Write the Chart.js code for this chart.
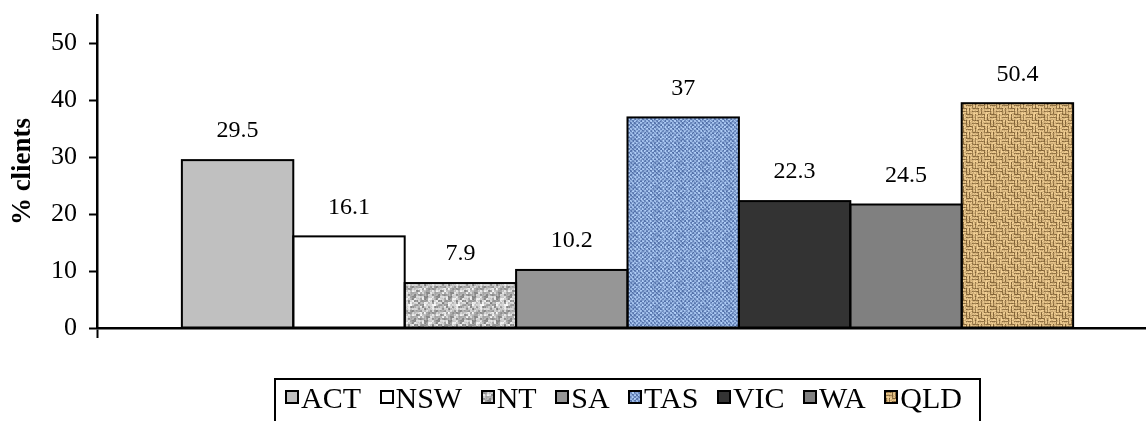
<!DOCTYPE html>
<html>
<head>
<meta charset="utf-8">
<title>% clients by state</title>
<script src="https://cdn.jsdelivr.net/npm/chart.js@4/dist/chart.umd.min.js"></script>
<style>
  html, body { margin: 0; padding: 0; background: #fff; overflow: hidden; }
  #wrap { position: relative; width: 1158px; height: 421px; }
  #chart { position: absolute; left: 0; top: 0; }
  #legend {
    position: absolute; left: 274px; top: 378px; width: 707px; height: 60px;
    border: 2px solid #000; box-sizing: border-box;
    padding: 1px 17px 0 9px; white-space: nowrap;
    display: flex; justify-content: space-between; align-items: flex-start;
    font: 30px 'Liberation Serif', 'DejaVu Serif', serif; color: #000;
  }
  #legend .item { display: inline-flex; align-items: center; }
  #legend .sw { width: 10px; height: 10px; border: 2px solid #000; margin-right: 2px; margin-top: -3px;
    background-size: cover; }
</style>
</head>
<body>
<div id="wrap">
  <canvas id="chart" width="1158" height="421"></canvas>
  <div id="legend"></div>
</div>
<script>
  // states in legend order
  var states = ['ACT', 'NSW', 'NT', 'SA', 'TAS', 'VIC', 'WA', 'QLD'];
  // bar heights as drawn (% clients)
  var barValues = [29.5, 16.1, 7.9, 10.2, 37, 22.3, 21.7, 39.5];
  // numbers printed over the bars
  var barLabels = ['29.5', '16.1', '7.9', '10.2', '37', '22.3', '24.5', '50.4'];
  var yTicks = [0, 10, 20, 30, 40, 50];

  var serif = "'Liberation Serif', 'DejaVu Serif', serif";

  // cheap deterministic hash for textures
  function hash(x, y, k) {
    var s = Math.sin(x * 12.9898 + y * 78.233 + k * 37.719) * 43758.5453;
    return s - Math.floor(s);
  }

  function texture(kind) {
    var c = document.createElement('canvas');
    c.width = c.height = 24;
    var g = c.getContext('2d');
    var img = g.createImageData(24, 24);
    for (var y = 0; y < 24; y++) {
      for (var x = 0; x < 24; x++) {
        var r, gr, b, n = hash(x, y, 1);
        if (kind === 'noise') {
          var m = hash(Math.floor(x / 2), Math.floor(y / 2), 2);
          var v = 120 + m * 110 + n * 25;
          r = gr = b = v;
        } else if (kind === 'blue') {
          var wv = ((x % 4 < 2) !== (y % 4 < 2)) ? 1 : 0;
          var t = 0.3 + wv * 0.35 + n * 0.35;
          r = 35 + t * 145; gr = 65 + t * 145; b = 130 + t * 120;
        } else {
          // basket weave: short horizontal and vertical strands
          var bx = Math.floor(x / 6), by = Math.floor(y / 6);
          var horiz = (bx + by) % 2 === 0;
          var line = horiz ? (y % 3 === 0) : (x % 3 === 0);
          var t2 = line ? 0.2 + n * 0.3 : 0.7 + n * 0.3;
          r = 95 + t2 * 150; gr = 65 + t2 * 145; b = 25 + t2 * 125;
        }
        var i = (y * 24 + x) * 4;
        img.data[i] = r; img.data[i + 1] = gr; img.data[i + 2] = b; img.data[i + 3] = 255;
      }
    }
    g.putImageData(img, 0, 0);
    return c;
  }

  var ctx = document.getElementById('chart').getContext('2d');
  var texNT = texture('noise'), texTAS = texture('blue'), texQLD = texture('tan');
  var fills = [
    '#c0c0c0', '#ffffff', ctx.createPattern(texNT, 'repeat'), '#969696',
    ctx.createPattern(texTAS, 'repeat'), '#333333', '#808080', ctx.createPattern(texQLD, 'repeat')
  ];
  var swatches = [
    '#c0c0c0', '#ffffff', 'url(' + texNT.toDataURL() + ')', '#969696',
    'url(' + texTAS.toDataURL() + ')', '#333333', '#808080', 'url(' + texQLD.toDataURL() + ')'
  ];

  // outlines + value labels over the bars
  var barDecor = {
    id: 'barDecor',
    afterDatasetsDraw: function(chart) {
      var c = chart.ctx;
      c.save();
      c.strokeStyle = '#000';
      c.lineWidth = 2;
      chart.data.datasets.forEach(function(ds, i) {
        var bar = chart.getDatasetMeta(i).data[0];
        var p = bar.getProps(['x', 'y', 'base', 'width'], true);
        c.strokeRect(p.x - p.width / 2, p.y, p.width, p.base - p.y);
      });
      c.fillStyle = '#000';
      c.font = '24px ' + serif;
      c.textAlign = 'center';
      c.textBaseline = 'middle';
      chart.data.datasets.forEach(function(ds, i) {
        var bar = chart.getDatasetMeta(i).data[0];
        c.fillText(barLabels[i], bar.x, bar.y - 29);
      });
      c.restore();
    }
  };

  new Chart(ctx, {
    type: 'bar',
    data: {
      labels: [''],
      datasets: states.map(function(s, i) {
        return {
          label: s,
          data: [barValues[i]],
          backgroundColor: fills[i],
          borderWidth: 0,
          categoryPercentage: 0.84,
          barPercentage: 1
        };
      })
    },
    options: {
      responsive: false,
      animation: false,
      devicePixelRatio: 1,
      layout: { padding: { top: 15, left: 0, right: 0, bottom: 0 } },
      plugins: { legend: { display: false }, tooltip: { enabled: false } },
      scales: {
        x: {
          offset: true,
          ticks: { display: false },
          grid: { drawOnChartArea: false, tickLength: 10, tickWidth: 2, tickColor: '#000' },
          border: { color: '#000', width: 2.5 },
          afterFit: function(scale) { scale.height = 93; }
        },
        y: {
          min: 0,
          max: 55,
          afterBuildTicks: function(scale) {
            scale.ticks = yTicks.map(function(v) { return { value: v }; });
          },
          ticks: { color: '#000', padding: 12, font: { family: serif, size: 26 } },
          grid: { drawOnChartArea: false, tickLength: 8, tickWidth: 2, tickColor: '#000' },
          border: { color: '#000', width: 2.5 },
          title: {
            display: true, text: '% clients', color: '#000',
            font: { family: serif, size: 27, weight: 'bold' },
            padding: { top: 7, bottom: 0 }
          },
          afterFit: function(scale) {
            scale.width = 97;
            // top label sits below the axis end, no extra room needed
            scale.paddingTop = 0;
            scale.paddingBottom = 0;
          }
        }
      }
    },
    plugins: [barDecor]
  });

  // legend
  var leg = document.getElementById('legend');
  states.forEach(function(s, i) {
    var it = document.createElement('span');
    it.className = 'item';
    var sw = document.createElement('span');
    sw.className = 'sw';
    sw.style.background = swatches[i];
    it.appendChild(sw);
    it.appendChild(document.createTextNode(s));
    leg.appendChild(it);
  });
</script>
</body>
</html>
